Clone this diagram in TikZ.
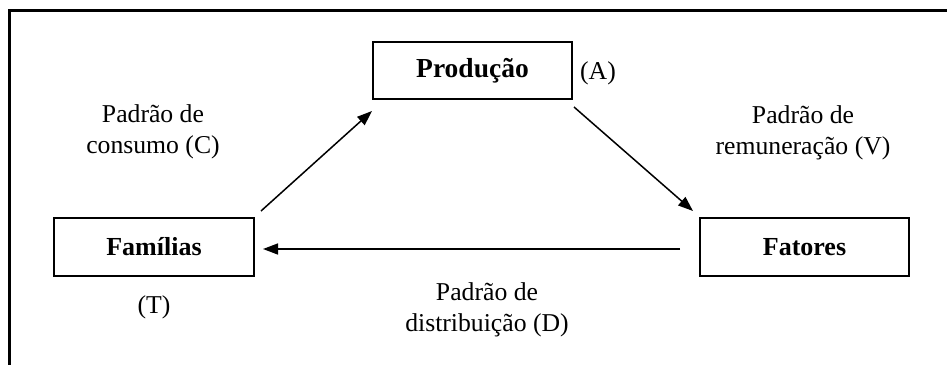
\documentclass[tikz,border=0pt]{standalone}
\usepackage{fontspec}
\setmainfont{Liberation Serif}
\usetikzlibrary{arrows.meta}
\begin{document}
\begin{tikzpicture}[x=1pt,y=-1pt,
  box/.style={draw,line width=2.4pt,inner sep=0pt,font=\fontsize{26}{30}\selectfont\bfseries},
  lbl/.style={align=center,inner sep=0pt,font=\fontsize{25.7}{30.5}\selectfont},
  flow/.style={line width=1.5pt,-{Triangle[length=15pt,width=11pt]}}]
\useasboundingbox (0,0) rectangle (947,364);
\draw[line width=3pt] (9,370) -- (9,10) -- (950,10);
\node[box,minimum width=199pt,minimum height=57pt,font=\fontsize{27.5}{30}\selectfont\bfseries] (P) at (472.5,70.5) {Produção};
\node[box,minimum width=200pt,minimum height=58pt] (F) at (154,247) {Famílias};
\node[box,minimum width=209pt,minimum height=58pt] (T) at (804.5,247) {Fatores};
\coordinate (a1) at (261,211);
\coordinate (a2) at (372,111);
\coordinate (b1) at (574,107);
\coordinate (b2) at (693,211);
\coordinate (c1) at (680,249);
\coordinate (c2) at (263,249);
\draw[flow] (a1) -- (a2);
\draw[flow] (b1) -- (b2);
\draw[flow] (c1) -- (c2);
\node[lbl] (la) at (598,73) {(A)};
\node[lbl] (lt) at (154,307) {(T)};
\node[lbl] (lc) at (153,132) {Padrão de\\consumo (C)};
\node[lbl] (lv) at (803,133) {Padrão de\\remuneração (V)};
\node[lbl] (ld) at (487,310) {Padrão de\\distribuição (D)};
\end{tikzpicture}
\end{document}
